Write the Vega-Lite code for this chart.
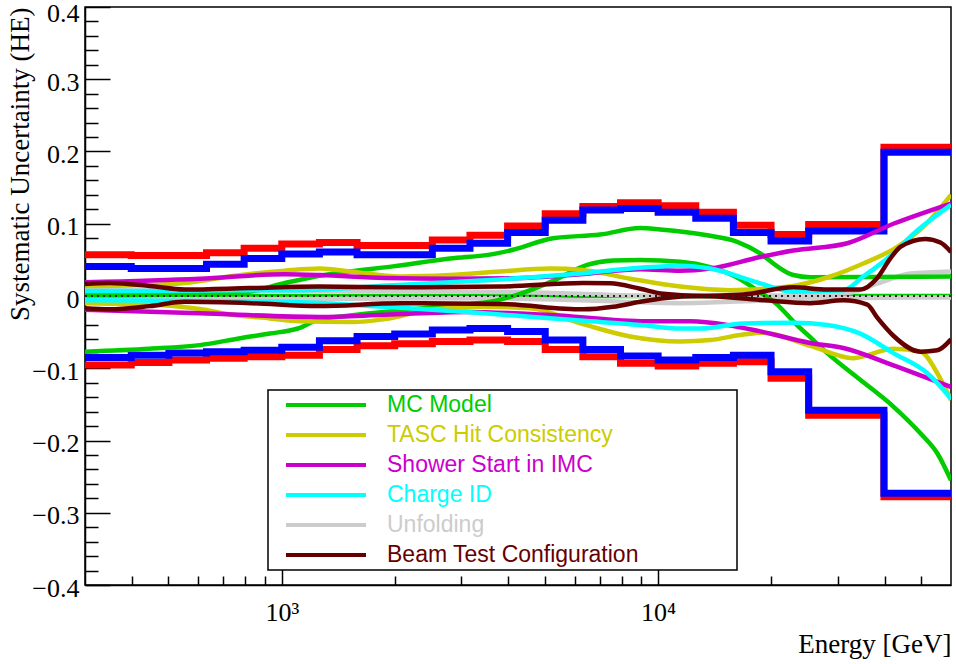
{
  "$schema": "https://vega.github.io/schema/vega-lite/v6.json",
  "width": 866,
  "height": 578,
  "autosize": "none",
  "padding": {"left": 85, "top": 7, "right": 5, "bottom": 79},
  "background": "white",
  "config": {
    "view": {"stroke": "black", "strokeWidth": 1.5},
    "axis": {
      "grid": false,
      "domainColor": "black",
      "domainWidth": 1.5,
      "tickColor": "black",
      "tickWidth": 1.5,
      "labelColor": "black",
      "labelFont": "Liberation Serif",
      "labelFontSize": 26,
      "labelOverlap": false,
      "labelFlush": false,
      "titleColor": "black",
      "titleFont": "Liberation Serif",
      "titleFontSize": 27,
      "titleFontWeight": "normal"
    }
  },
  "resolve": {"axis": {"x": "independent", "y": "independent"}},
  "datasets": {
    "totals": [
      {"E": 300, "outer_hi": 0.057, "inner_hi": 0.041, "inner_lo": -0.085, "outer_lo": -0.0955},
      {"E": 398.1, "outer_hi": 0.056, "inner_hi": 0.038, "inner_lo": -0.082, "outer_lo": -0.092},
      {"E": 501.2, "outer_hi": 0.056, "inner_hi": 0.038, "inner_lo": -0.079, "outer_lo": -0.0886},
      {"E": 631.0, "outer_hi": 0.060, "inner_hi": 0.044, "inner_lo": -0.077, "outer_lo": -0.086},
      {"E": 794.3, "outer_hi": 0.066, "inner_hi": 0.052, "inner_lo": -0.075, "outer_lo": -0.084},
      {"E": 1000, "outer_hi": 0.072, "inner_hi": 0.058, "inner_lo": -0.071, "outer_lo": -0.082},
      {"E": 1258.9, "outer_hi": 0.074, "inner_hi": 0.061, "inner_lo": -0.062, "outer_lo": -0.074},
      {"E": 1584.9, "outer_hi": 0.070, "inner_hi": 0.057, "inner_lo": -0.056, "outer_lo": -0.069},
      {"E": 1995.3, "outer_hi": 0.070, "inner_hi": 0.057, "inner_lo": -0.0526, "outer_lo": -0.066},
      {"E": 2511.9, "outer_hi": 0.0775, "inner_hi": 0.066, "inner_lo": -0.047, "outer_lo": -0.063},
      {"E": 3162.3, "outer_hi": 0.084, "inner_hi": 0.073, "inner_lo": -0.045, "outer_lo": -0.061},
      {"E": 3981.1, "outer_hi": 0.097, "inner_hi": 0.088, "inner_lo": -0.049, "outer_lo": -0.063},
      {"E": 5011.9, "outer_hi": 0.114, "inner_hi": 0.105, "inner_lo": -0.061, "outer_lo": -0.074},
      {"E": 6309.6, "outer_hi": 0.124, "inner_hi": 0.119, "inner_lo": -0.074, "outer_lo": -0.084},
      {"E": 7943.3, "outer_hi": 0.129, "inner_hi": 0.121, "inner_lo": -0.083, "outer_lo": -0.093},
      {"E": 10000, "outer_hi": 0.125, "inner_hi": 0.116, "inner_lo": -0.0886, "outer_lo": -0.097},
      {"E": 12589.3, "outer_hi": 0.116, "inner_hi": 0.1075, "inner_lo": -0.085, "outer_lo": -0.093},
      {"E": 15848.9, "outer_hi": 0.098, "inner_hi": 0.088, "inner_lo": -0.082, "outer_lo": -0.091},
      {"E": 19952.6, "outer_hi": 0.085, "inner_hi": 0.076, "inner_lo": -0.105, "outer_lo": -0.114},
      {"E": 25118.9, "outer_hi": 0.099, "inner_hi": 0.090, "inner_lo": -0.158, "outer_lo": -0.165},
      {"E": 39810.7, "outer_hi": 0.206, "inner_hi": 0.199, "inner_lo": -0.273, "outer_lo": -0.278},
      {"E": 60000, "outer_hi": 0.206, "inner_hi": 0.199, "inner_lo": -0.273, "outer_lo": -0.278}
    ],
    "curves": [
      {"sys": "MC Model", "branch": "flat", "E": 300, "v": 0},
      {"sys": "MC Model", "branch": "flat", "E": 60000, "v": 0},

      {"sys": "Unfolding", "branch": "hi", "E": 300, "v": 0.008},
      {"sys": "Unfolding", "branch": "hi", "E": 1117, "v": 0.007},
      {"sys": "Unfolding", "branch": "hi", "E": 3362, "v": 0.006},
      {"sys": "Unfolding", "branch": "hi", "E": 6204, "v": 0.003},
      {"sys": "Unfolding", "branch": "hi", "E": 9522, "v": 0.0},
      {"sys": "Unfolding", "branch": "hi", "E": 21110, "v": 0.0},
      {"sys": "Unfolding", "branch": "hi", "E": 31819, "v": 0.004},
      {"sys": "Unfolding", "branch": "hi", "E": 38216, "v": 0.017},
      {"sys": "Unfolding", "branch": "hi", "E": 46802, "v": 0.031},
      {"sys": "Unfolding", "branch": "hi", "E": 60000, "v": 0.034},
      {"sys": "Unfolding", "branch": "lo", "E": 300, "v": -0.004},
      {"sys": "Unfolding", "branch": "lo", "E": 1117, "v": -0.004},
      {"sys": "Unfolding", "branch": "lo", "E": 3362, "v": -0.003},
      {"sys": "Unfolding", "branch": "lo", "E": 6204, "v": -0.006},
      {"sys": "Unfolding", "branch": "lo", "E": 11442, "v": -0.010},
      {"sys": "Unfolding", "branch": "lo", "E": 15541, "v": -0.008},
      {"sys": "Unfolding", "branch": "lo", "E": 28665, "v": -0.003},
      {"sys": "Unfolding", "branch": "lo", "E": 60000, "v": -0.002},

      {"sys": "MC Model", "branch": "hi", "E": 300, "v": 0.001},
      {"sys": "MC Model", "branch": "hi", "E": 605, "v": 0.002},
      {"sys": "MC Model", "branch": "hi", "E": 797, "v": 0.005},
      {"sys": "MC Model", "branch": "hi", "E": 1019, "v": 0.018},
      {"sys": "MC Model", "branch": "hi", "E": 1262, "v": 0.028},
      {"sys": "MC Model", "branch": "hi", "E": 1517, "v": 0.034},
      {"sys": "MC Model", "branch": "hi", "E": 1974, "v": 0.041},
      {"sys": "MC Model", "branch": "hi", "E": 2798, "v": 0.052},
      {"sys": "MC Model", "branch": "hi", "E": 3641, "v": 0.058},
      {"sys": "MC Model", "branch": "hi", "E": 4115, "v": 0.064},
      {"sys": "MC Model", "branch": "hi", "E": 5258, "v": 0.080},
      {"sys": "MC Model", "branch": "hi", "E": 7012, "v": 0.085},
      {"sys": "MC Model", "branch": "hi", "E": 8956, "v": 0.094},
      {"sys": "MC Model", "branch": "hi", "E": 10123, "v": 0.092},
      {"sys": "MC Model", "branch": "hi", "E": 13502, "v": 0.084},
      {"sys": "MC Model", "branch": "hi", "E": 16221, "v": 0.075},
      {"sys": "MC Model", "branch": "hi", "E": 18675, "v": 0.059},
      {"sys": "MC Model", "branch": "hi", "E": 20725, "v": 0.041},
      {"sys": "MC Model", "branch": "hi", "E": 22856, "v": 0.029},
      {"sys": "MC Model", "branch": "hi", "E": 25370, "v": 0.026},
      {"sys": "MC Model", "branch": "hi", "E": 60000, "v": 0.027},
      {"sys": "MC Model", "branch": "lo", "E": 300, "v": -0.077},
      {"sys": "MC Model", "branch": "lo", "E": 446, "v": -0.073},
      {"sys": "MC Model", "branch": "lo", "E": 605, "v": -0.068},
      {"sys": "MC Model", "branch": "lo", "E": 783, "v": -0.058},
      {"sys": "MC Model", "branch": "lo", "E": 929, "v": -0.052},
      {"sys": "MC Model", "branch": "lo", "E": 1103, "v": -0.045},
      {"sys": "MC Model", "branch": "lo", "E": 1247, "v": -0.033},
      {"sys": "MC Model", "branch": "lo", "E": 1517, "v": -0.027},
      {"sys": "MC Model", "branch": "lo", "E": 1879, "v": -0.022},
      {"sys": "MC Model", "branch": "lo", "E": 2476, "v": -0.016},
      {"sys": "MC Model", "branch": "lo", "E": 3162, "v": -0.011},
      {"sys": "MC Model", "branch": "lo", "E": 3731, "v": -0.006},
      {"sys": "MC Model", "branch": "lo", "E": 4295, "v": 0.003},
      {"sys": "MC Model", "branch": "lo", "E": 5258, "v": 0.021},
      {"sys": "MC Model", "branch": "lo", "E": 6475, "v": 0.043},
      {"sys": "MC Model", "branch": "lo", "E": 7593, "v": 0.049},
      {"sys": "MC Model", "branch": "lo", "E": 8956, "v": 0.050},
      {"sys": "MC Model", "branch": "lo", "E": 11442, "v": 0.0475},
      {"sys": "MC Model", "branch": "lo", "E": 13752, "v": 0.040},
      {"sys": "MC Model", "branch": "lo", "E": 16024, "v": 0.027},
      {"sys": "MC Model", "branch": "lo", "E": 18675, "v": 0.005},
      {"sys": "MC Model", "branch": "lo", "E": 20725, "v": -0.012},
      {"sys": "MC Model", "branch": "lo", "E": 22856, "v": -0.035},
      {"sys": "MC Model", "branch": "lo", "E": 25838, "v": -0.061},
      {"sys": "MC Model", "branch": "lo", "E": 28147, "v": -0.079},
      {"sys": "MC Model", "branch": "lo", "E": 34444, "v": -0.116},
      {"sys": "MC Model", "branch": "lo", "E": 42170, "v": -0.153},
      {"sys": "MC Model", "branch": "lo", "E": 49757, "v": -0.190},
      {"sys": "MC Model", "branch": "lo", "E": 55218, "v": -0.218},
      {"sys": "MC Model", "branch": "lo", "E": 60000, "v": -0.255},

      {"sys": "TASC Hit Consistency", "branch": "hi", "E": 300, "v": 0.014},
      {"sys": "TASC Hit Consistency", "branch": "hi", "E": 419, "v": 0.015},
      {"sys": "TASC Hit Consistency", "branch": "hi", "E": 552, "v": 0.018},
      {"sys": "TASC Hit Consistency", "branch": "hi", "E": 750, "v": 0.028},
      {"sys": "TASC Hit Consistency", "branch": "hi", "E": 1019, "v": 0.035},
      {"sys": "TASC Hit Consistency", "branch": "hi", "E": 1262, "v": 0.038},
      {"sys": "TASC Hit Consistency", "branch": "hi", "E": 1517, "v": 0.034},
      {"sys": "TASC Hit Consistency", "branch": "hi", "E": 2060, "v": 0.027},
      {"sys": "TASC Hit Consistency", "branch": "hi", "E": 2798, "v": 0.029},
      {"sys": "TASC Hit Consistency", "branch": "hi", "E": 3800, "v": 0.034},
      {"sys": "TASC Hit Consistency", "branch": "hi", "E": 5163, "v": 0.038},
      {"sys": "TASC Hit Consistency", "branch": "hi", "E": 6317, "v": 0.036},
      {"sys": "TASC Hit Consistency", "branch": "hi", "E": 8424, "v": 0.024},
      {"sys": "TASC Hit Consistency", "branch": "hi", "E": 11442, "v": 0.013},
      {"sys": "TASC Hit Consistency", "branch": "hi", "E": 15541, "v": 0.008},
      {"sys": "TASC Hit Consistency", "branch": "hi", "E": 19022, "v": 0.010},
      {"sys": "TASC Hit Consistency", "branch": "hi", "E": 23425, "v": 0.015},
      {"sys": "TASC Hit Consistency", "branch": "hi", "E": 28665, "v": 0.027},
      {"sys": "TASC Hit Consistency", "branch": "hi", "E": 35082, "v": 0.045},
      {"sys": "TASC Hit Consistency", "branch": "hi", "E": 43216, "v": 0.068},
      {"sys": "TASC Hit Consistency", "branch": "hi", "E": 50682, "v": 0.096},
      {"sys": "TASC Hit Consistency", "branch": "hi", "E": 60000, "v": 0.140},
      {"sys": "TASC Hit Consistency", "branch": "lo", "E": 300, "v": -0.010},
      {"sys": "TASC Hit Consistency", "branch": "lo", "E": 495, "v": -0.013},
      {"sys": "TASC Hit Consistency", "branch": "lo", "E": 605, "v": -0.018},
      {"sys": "TASC Hit Consistency", "branch": "lo", "E": 741, "v": -0.026},
      {"sys": "TASC Hit Consistency", "branch": "lo", "E": 929, "v": -0.031},
      {"sys": "TASC Hit Consistency", "branch": "lo", "E": 1117, "v": -0.035},
      {"sys": "TASC Hit Consistency", "branch": "lo", "E": 1535, "v": -0.036},
      {"sys": "TASC Hit Consistency", "branch": "lo", "E": 1879, "v": -0.032},
      {"sys": "TASC Hit Consistency", "branch": "lo", "E": 2476, "v": -0.019},
      {"sys": "TASC Hit Consistency", "branch": "lo", "E": 3362, "v": -0.015},
      {"sys": "TASC Hit Consistency", "branch": "lo", "E": 4567, "v": -0.017},
      {"sys": "TASC Hit Consistency", "branch": "lo", "E": 6317, "v": -0.039},
      {"sys": "TASC Hit Consistency", "branch": "lo", "E": 8424, "v": -0.056},
      {"sys": "TASC Hit Consistency", "branch": "lo", "E": 11442, "v": -0.063},
      {"sys": "TASC Hit Consistency", "branch": "lo", "E": 13752, "v": -0.061},
      {"sys": "TASC Hit Consistency", "branch": "lo", "E": 17038, "v": -0.053},
      {"sys": "TASC Hit Consistency", "branch": "lo", "E": 19022, "v": -0.051},
      {"sys": "TASC Hit Consistency", "branch": "lo", "E": 25370, "v": -0.069},
      {"sys": "TASC Hit Consistency", "branch": "lo", "E": 32999, "v": -0.086},
      {"sys": "TASC Hit Consistency", "branch": "lo", "E": 42170, "v": -0.073},
      {"sys": "TASC Hit Consistency", "branch": "lo", "E": 49757, "v": -0.077},
      {"sys": "TASC Hit Consistency", "branch": "lo", "E": 55218, "v": -0.107},
      {"sys": "TASC Hit Consistency", "branch": "lo", "E": 60000, "v": -0.144},

      {"sys": "Shower Start in IMC", "branch": "hi", "E": 300, "v": 0.019},
      {"sys": "Shower Start in IMC", "branch": "hi", "E": 605, "v": 0.024},
      {"sys": "Shower Start in IMC", "branch": "hi", "E": 1019, "v": 0.030},
      {"sys": "Shower Start in IMC", "branch": "hi", "E": 1262, "v": 0.029},
      {"sys": "Shower Start in IMC", "branch": "hi", "E": 1879, "v": 0.025},
      {"sys": "Shower Start in IMC", "branch": "hi", "E": 2798, "v": 0.024},
      {"sys": "Shower Start in IMC", "branch": "hi", "E": 4115, "v": 0.0245},
      {"sys": "Shower Start in IMC", "branch": "hi", "E": 6204, "v": 0.030},
      {"sys": "Shower Start in IMC", "branch": "hi", "E": 8956, "v": 0.037},
      {"sys": "Shower Start in IMC", "branch": "hi", "E": 11442, "v": 0.035},
      {"sys": "Shower Start in IMC", "branch": "hi", "E": 13752, "v": 0.038},
      {"sys": "Shower Start in IMC", "branch": "hi", "E": 18675, "v": 0.054},
      {"sys": "Shower Start in IMC", "branch": "hi", "E": 22856, "v": 0.063},
      {"sys": "Shower Start in IMC", "branch": "hi", "E": 31819, "v": 0.073},
      {"sys": "Shower Start in IMC", "branch": "hi", "E": 42170, "v": 0.100},
      {"sys": "Shower Start in IMC", "branch": "hi", "E": 60000, "v": 0.128},
      {"sys": "Shower Start in IMC", "branch": "lo", "E": 300, "v": -0.019},
      {"sys": "Shower Start in IMC", "branch": "lo", "E": 605, "v": -0.024},
      {"sys": "Shower Start in IMC", "branch": "lo", "E": 1262, "v": -0.029},
      {"sys": "Shower Start in IMC", "branch": "lo", "E": 1879, "v": -0.026},
      {"sys": "Shower Start in IMC", "branch": "lo", "E": 3105, "v": -0.022},
      {"sys": "Shower Start in IMC", "branch": "lo", "E": 5069, "v": -0.026},
      {"sys": "Shower Start in IMC", "branch": "lo", "E": 9348, "v": -0.035},
      {"sys": "Shower Start in IMC", "branch": "lo", "E": 12166, "v": -0.035},
      {"sys": "Shower Start in IMC", "branch": "lo", "E": 15258, "v": -0.040},
      {"sys": "Shower Start in IMC", "branch": "lo", "E": 18675, "v": -0.049},
      {"sys": "Shower Start in IMC", "branch": "lo", "E": 25370, "v": -0.065},
      {"sys": "Shower Start in IMC", "branch": "lo", "E": 31046, "v": -0.072},
      {"sys": "Shower Start in IMC", "branch": "lo", "E": 42170, "v": -0.096},
      {"sys": "Shower Start in IMC", "branch": "lo", "E": 60000, "v": -0.126},

      {"sys": "Charge ID", "branch": "hi", "E": 300, "v": 0.007},
      {"sys": "Charge ID", "branch": "hi", "E": 446, "v": 0.007},
      {"sys": "Charge ID", "branch": "hi", "E": 822, "v": 0.008},
      {"sys": "Charge ID", "branch": "hi", "E": 1117, "v": 0.008},
      {"sys": "Charge ID", "branch": "hi", "E": 1974, "v": 0.015},
      {"sys": "Charge ID", "branch": "hi", "E": 2798, "v": 0.019},
      {"sys": "Charge ID", "branch": "hi", "E": 3800, "v": 0.023},
      {"sys": "Charge ID", "branch": "hi", "E": 6204, "v": 0.031},
      {"sys": "Charge ID", "branch": "hi", "E": 8956, "v": 0.039},
      {"sys": "Charge ID", "branch": "hi", "E": 11442, "v": 0.042},
      {"sys": "Charge ID", "branch": "hi", "E": 13752, "v": 0.038},
      {"sys": "Charge ID", "branch": "hi", "E": 18675, "v": 0.0175},
      {"sys": "Charge ID", "branch": "hi", "E": 22856, "v": 0.006},
      {"sys": "Charge ID", "branch": "hi", "E": 31046, "v": 0.008},
      {"sys": "Charge ID", "branch": "hi", "E": 35082, "v": 0.027},
      {"sys": "Charge ID", "branch": "hi", "E": 38216, "v": 0.041},
      {"sys": "Charge ID", "branch": "hi", "E": 43216, "v": 0.064},
      {"sys": "Charge ID", "branch": "hi", "E": 46802, "v": 0.082},
      {"sys": "Charge ID", "branch": "hi", "E": 60000, "v": 0.126},
      {"sys": "Charge ID", "branch": "lo", "E": 300, "v": -0.006},
      {"sys": "Charge ID", "branch": "lo", "E": 605, "v": -0.007},
      {"sys": "Charge ID", "branch": "lo", "E": 1019, "v": -0.008},
      {"sys": "Charge ID", "branch": "lo", "E": 1879, "v": -0.015},
      {"sys": "Charge ID", "branch": "lo", "E": 3105, "v": -0.022},
      {"sys": "Charge ID", "branch": "lo", "E": 6204, "v": -0.034},
      {"sys": "Charge ID", "branch": "lo", "E": 8956, "v": -0.040},
      {"sys": "Charge ID", "branch": "lo", "E": 11442, "v": -0.045},
      {"sys": "Charge ID", "branch": "lo", "E": 12935, "v": -0.045},
      {"sys": "Charge ID", "branch": "lo", "E": 16831, "v": -0.038},
      {"sys": "Charge ID", "branch": "lo", "E": 22856, "v": -0.037},
      {"sys": "Charge ID", "branch": "lo", "E": 28147, "v": -0.040},
      {"sys": "Charge ID", "branch": "lo", "E": 34444, "v": -0.052},
      {"sys": "Charge ID", "branch": "lo", "E": 42170, "v": -0.079},
      {"sys": "Charge ID", "branch": "lo", "E": 51932, "v": -0.107},
      {"sys": "Charge ID", "branch": "lo", "E": 60000, "v": -0.142},

      {"sys": "Beam Test Configuration", "branch": "hi", "E": 300, "v": 0.0166},
      {"sys": "Beam Test Configuration", "branch": "hi", "E": 349, "v": 0.018},
      {"sys": "Beam Test Configuration", "branch": "hi", "E": 446, "v": 0.014},
      {"sys": "Beam Test Configuration", "branch": "hi", "E": 552, "v": 0.009},
      {"sys": "Beam Test Configuration", "branch": "hi", "E": 822, "v": 0.011},
      {"sys": "Beam Test Configuration", "branch": "hi", "E": 1262, "v": 0.013},
      {"sys": "Beam Test Configuration", "branch": "hi", "E": 2060, "v": 0.012},
      {"sys": "Beam Test Configuration", "branch": "hi", "E": 3800, "v": 0.013},
      {"sys": "Beam Test Configuration", "branch": "hi", "E": 6317, "v": 0.018},
      {"sys": "Beam Test Configuration", "branch": "hi", "E": 7455, "v": 0.0175},
      {"sys": "Beam Test Configuration", "branch": "hi", "E": 8956, "v": 0.010},
      {"sys": "Beam Test Configuration", "branch": "hi", "E": 10311, "v": 0.003},
      {"sys": "Beam Test Configuration", "branch": "hi", "E": 12935, "v": 0.0},
      {"sys": "Beam Test Configuration", "branch": "hi", "E": 16831, "v": 0.002},
      {"sys": "Beam Test Configuration", "branch": "hi", "E": 22856, "v": 0.012},
      {"sys": "Beam Test Configuration", "branch": "hi", "E": 28147, "v": 0.009},
      {"sys": "Beam Test Configuration", "branch": "hi", "E": 34444, "v": 0.009},
      {"sys": "Beam Test Configuration", "branch": "hi", "E": 38216, "v": 0.025},
      {"sys": "Beam Test Configuration", "branch": "hi", "E": 41400, "v": 0.052},
      {"sys": "Beam Test Configuration", "branch": "hi", "E": 44020, "v": 0.068},
      {"sys": "Beam Test Configuration", "branch": "hi", "E": 51303, "v": 0.079},
      {"sys": "Beam Test Configuration", "branch": "hi", "E": 56234, "v": 0.074},
      {"sys": "Beam Test Configuration", "branch": "hi", "E": 60000, "v": 0.061},
      {"sys": "Beam Test Configuration", "branch": "lo", "E": 300, "v": -0.017},
      {"sys": "Beam Test Configuration", "branch": "lo", "E": 349, "v": -0.0185},
      {"sys": "Beam Test Configuration", "branch": "lo", "E": 446, "v": -0.014},
      {"sys": "Beam Test Configuration", "branch": "lo", "E": 552, "v": -0.008},
      {"sys": "Beam Test Configuration", "branch": "lo", "E": 832, "v": -0.010},
      {"sys": "Beam Test Configuration", "branch": "lo", "E": 1247, "v": -0.014},
      {"sys": "Beam Test Configuration", "branch": "lo", "E": 2060, "v": -0.010},
      {"sys": "Beam Test Configuration", "branch": "lo", "E": 3800, "v": -0.011},
      {"sys": "Beam Test Configuration", "branch": "lo", "E": 6317, "v": -0.0185},
      {"sys": "Beam Test Configuration", "branch": "lo", "E": 7593, "v": -0.015},
      {"sys": "Beam Test Configuration", "branch": "lo", "E": 8956, "v": -0.008},
      {"sys": "Beam Test Configuration", "branch": "lo", "E": 10311, "v": -0.003},
      {"sys": "Beam Test Configuration", "branch": "lo", "E": 12935, "v": 0.0},
      {"sys": "Beam Test Configuration", "branch": "lo", "E": 18675, "v": -0.0055},
      {"sys": "Beam Test Configuration", "branch": "lo", "E": 25370, "v": -0.010},
      {"sys": "Beam Test Configuration", "branch": "lo", "E": 31046, "v": -0.006},
      {"sys": "Beam Test Configuration", "branch": "lo", "E": 35957, "v": -0.012},
      {"sys": "Beam Test Configuration", "branch": "lo", "E": 38216, "v": -0.030},
      {"sys": "Beam Test Configuration", "branch": "lo", "E": 42170, "v": -0.055},
      {"sys": "Beam Test Configuration", "branch": "lo", "E": 49757, "v": -0.077},
      {"sys": "Beam Test Configuration", "branch": "lo", "E": 55218, "v": -0.075},
      {"sys": "Beam Test Configuration", "branch": "lo", "E": 60000, "v": -0.060}
    ]
  },
  "layer": [
    {
      "data": {"name": "totals"},
      "transform": [{"fold": ["outer_hi", "outer_lo"], "as": ["edge", "v"]}],
      "mark": {"type": "line", "interpolate": "step-after", "color": "#ff0000", "strokeWidth": 7, "clip": true},
      "encoding": {
        "x": {"field": "E", "type": "quantitative",
              "scale": {"type": "log", "domain": [300, 60000], "nice": false},
              "axis": {
                "orient": "bottom",
                "values": [1000, 10000],
                "tickSize": -17,
                "labelExpr": "datum.value == 1000 ? '10³' : '10⁴'",
                "labelPadding": 31,
                "title": "Energy [GeV]",
                "titleAnchor": "end",
                "titleAlign": "right",
                "titleBaseline": "alphabetic",
                "titleX": 866,
                "titleY": 67
              }},
        "y": {"field": "v", "type": "quantitative",
              "scale": {"domain": [-0.4, 0.4], "nice": false, "zero": false},
              "axis": {
                "orient": "left",
                "values": [-0.4, -0.3, -0.2, -0.1, 0, 0.1, 0.2, 0.3, 0.4],
                "tickSize": -25,
                "format": ".1~f",
                "labelPadding": 31,
                "labelBaseline": "middle",
                "labelOffset": {"condition": {"test": "datum.value > 0.35", "value": 6}, "value": 3},
                "title": "Systematic Uncertainty (HE)",
                "titleAnchor": "end",
                "titleAngle": -90,
                "titleAlign": "right",
                "titleBaseline": "alphabetic",
                "titleX": -57,
                "titleY": 0
              }},
        "detail": {"field": "edge"}
      }
    },
    {
      "data": {"name": "totals"},
      "transform": [{"fold": ["inner_hi", "inner_lo"], "as": ["edge", "v"]}],
      "mark": {"type": "line", "interpolate": "step-after", "color": "#0000ff", "strokeWidth": 7, "clip": true},
      "encoding": {
        "x": {"field": "E", "type": "quantitative",
              "axis": {
                "orient": "bottom",
                "values": [400, 500, 600, 700, 800, 900, 2000, 3000, 4000, 5000, 6000, 7000, 8000, 9000, 20000, 30000, 40000, 50000],
                "tickSize": -9,
                "labels": false,
                "domain": false,
                "title": null
              }},
        "y": {"field": "v", "type": "quantitative",
              "axis": {
                "orient": "left",
                "values": [-0.38, -0.36, -0.34, -0.32, -0.28, -0.26, -0.24, -0.22, -0.18, -0.16, -0.14, -0.12, -0.08, -0.06, -0.04, -0.02, 0.02, 0.04, 0.06, 0.08, 0.12, 0.14, 0.16, 0.18, 0.22, 0.24, 0.26, 0.28, 0.32, 0.34, 0.36, 0.38],
                "tickSize": -13,
                "labels": false,
                "domain": false,
                "title": null
              }},
        "detail": {"field": "edge"}
      }
    },
    {
      "data": {"name": "curves"},
      "mark": {"type": "line", "interpolate": "monotone", "strokeWidth": 4.5, "clip": true},
      "encoding": {
        "x": {"field": "E", "type": "quantitative", "axis": null},
        "y": {"field": "v", "type": "quantitative", "axis": null},
        "detail": {"field": "branch"},
        "color": {
          "field": "sys", "type": "nominal",
          "scale": {
            "domain": ["MC Model", "TASC Hit Consistency", "Shower Start in IMC", "Charge ID", "Unfolding", "Beam Test Configuration"],
            "range": ["#00cc00", "#cccc00", "#cc00cc", "#00ffff", "#cccccc", "#660000"]
          },
          "legend": {
            "title": null,
            "orient": "none",
            "legendX": 183,
            "legendY": 383,
            "symbolType": "stroke",
            "symbolSize": 6400,
            "symbolStrokeWidth": 4,
            "symbolOffset": 14,
            "labelOffset": 19,
            "clipHeight": 26,
            "rowPadding": 4,
            "padding": 2,
            "labelFont": "Liberation Sans",
            "labelFontSize": 23,
            "labelLimit": 600,
            "labelExpr": "datum.label == 'Beam Test Configuration' ? datum.label + '\u00a0\u00a0\u00a0\u00a0\u00a0\u00a0\u00a0\u00a0\u00a0\u00a0\u00a0\u00a0\u00a0\u00a0\u00a0\u200b' : datum.label",
            "strokeColor": "black",
            "fillColor": "white",
            "encode": {
              "labels": {"update": {"fill": {"scale": "color", "field": "value"}}},
              "legend": {"update": {"strokeWidth": {"value": 1.5}}}
            }
          }
        }
      }
    },
    {
      "data": {"values": [{}]},
      "mark": {"type": "rule", "color": "#222222", "strokeWidth": 2, "strokeDash": [2, 4]},
      "encoding": {"y": {"datum": 0, "axis": null}}
    }
  ]
}
